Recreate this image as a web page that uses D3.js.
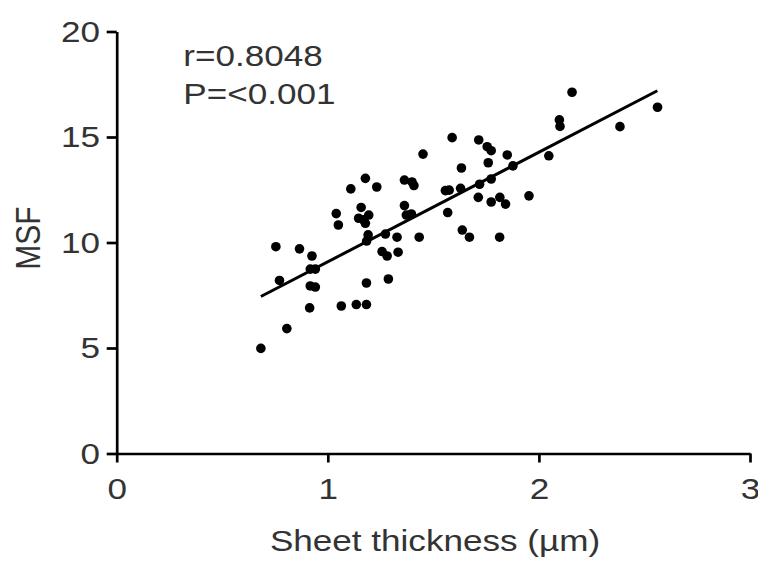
<!DOCTYPE html>
<html>
<head>
<meta charset="utf-8">
<script src="https://d3js.org/d3.v7.min.js"></script>
<style>
body { margin: 0; background: white; }
text { font-family: "Liberation Sans", Arial, sans-serif; fill: #333; }
</style>
</head>
<body>
<svg width="758" height="561"></svg>
<script>

// sheet thickness (um) for each subject
var thickness = [0.683, 0.806, 0.754, 0.771, 0.866, 0.925, 0.917, 0.941, 0.917, 0.941,
  0.914, 1.040, 1.050, 1.064, 1.109, 1.135, 1.183, 1.158, 1.146, 1.170,
  1.194, 1.178, 1.178, 1.232, 1.191, 1.184, 1.183, 1.273, 1.257, 1.281,
  1.287, 1.328, 1.333, 1.363, 1.399, 1.408, 1.363, 1.372, 1.396, 1.433,
  1.451, 1.557, 1.575, 1.568, 1.589, 1.629, 1.633, 1.637, 1.671, 1.715,
  1.755, 1.774, 1.760, 1.719, 1.774, 1.713, 1.774, 1.815, 1.842, 1.814,
  1.850, 1.877, 1.953, 2.047, 2.097, 2.100, 2.157, 2.384, 2.562];

// MSF value for each subject
var msf = [4.98, 5.92, 9.80, 8.20, 9.70, 9.36, 8.74, 8.74, 7.94, 7.89,
  6.90, 11.37, 10.83, 6.99, 12.54, 7.06, 7.06, 11.66, 11.15, 11.07,
  11.30, 10.91, 13.04, 12.63, 10.36, 10.07, 8.08, 10.40, 9.57, 9.36,
  8.27, 10.25, 9.54, 12.96, 12.87, 12.70, 11.75, 11.30, 11.35, 10.25,
  14.19, 12.46, 12.48, 11.42, 14.97, 12.57, 13.53, 10.59, 10.25, 14.86,
  14.54, 14.35, 13.78, 12.76, 13.01, 12.14, 11.92, 12.14, 11.82, 10.25,
  14.15, 13.63, 12.21, 14.11, 15.81, 15.50, 17.12, 15.49, 16.41];

// regression line ends
var fitX = [0.683, 2.561];
var fitY = [7.44, 17.19];

var xTicks = [0, 1, 2, 3];
var yTicks = [0, 5, 10, 15, 20];
var stats = ["r=0.8048", "P=<0.001"];

var sx = 1.17;   // the original picture is a bit stretched sideways
var mLeft = 116.7, mTop = 31.5, width = 633.3, height = 422;

var svg = d3.select("svg");

var x = d3.scaleLinear().domain([0, 3]).range([0, width]);
var y = d3.scaleLinear().domain([0, 20]).range([height, 0]);

var g = svg.append("g").attr("transform", "translate(" + mLeft + "," + mTop + ")");

// y axis
var yAxis = g.append("g")
    .call(d3.axisLeft(y).tickValues(yTicks).tickFormat(d3.format("d"))
      .tickSize(10).tickSizeOuter(0));
yAxis.selectAll("text")
    .attr("x", -16.7 / sx)
    .attr("transform", "scale(" + sx + ",1)");

// x axis
var xAxis = g.append("g")
    .attr("transform", "translate(0," + height + ")")
    .call(d3.axisBottom(x).tickValues(xTicks).tickFormat(d3.format("d"))
      .tickSize(9).tickPadding(15).tickSizeOuter(0));
xAxis.selectAll("text")
    .attr("transform", "scale(" + sx + ",1)");

g.selectAll(".domain, .tick line").attr("stroke", "#000").attr("stroke-width", 2.7);
g.selectAll(".tick text")
    .style("font-size", "30px")
    .style("font-family", "'Liberation Sans', Arial, sans-serif")
    .attr("fill", "#333");

// points
g.append("g").selectAll("circle")
    .data(thickness)
    .join("circle")
    .attr("cx", function(d) { return x(d); })
    .attr("cy", function(d, i) { return y(msf[i]); })
    .attr("r", 4.8)
    .attr("fill", "#000");

// regression line
g.append("path")
    .datum(fitX)
    .attr("fill", "none")
    .attr("stroke", "#000")
    .attr("stroke-width", 3)
    .attr("d", d3.line()
        .x(function(d) { return x(d); })
        .y(function(d, i) { return y(fitY[i]); }));

// stats text
stats.forEach(function(s, i) {
  svg.append("g")
      .attr("transform", "translate(183.3," + (65.7 + i * 38.3) + ")")
    .append("text")
      .attr("transform", "scale(" + sx + ",1)")
      .style("font-size", "30px")
      .text(s);
});

// axis titles
svg.append("g")
    .attr("transform", "translate(435,551)")
  .append("text")
    .attr("transform", "scale(" + sx + ",1)")
    .attr("text-anchor", "middle")
    .style("font-size", "30px")
    .text("Sheet thickness (\u00b5m)");

svg.append("g")
    .attr("transform", "translate(40,238) scale(" + sx + ",1) rotate(-90)")
  .append("text")
    .attr("text-anchor", "middle")
    .style("font-size", "30px")
    .text("MSF");

</script>
</body>
</html>
